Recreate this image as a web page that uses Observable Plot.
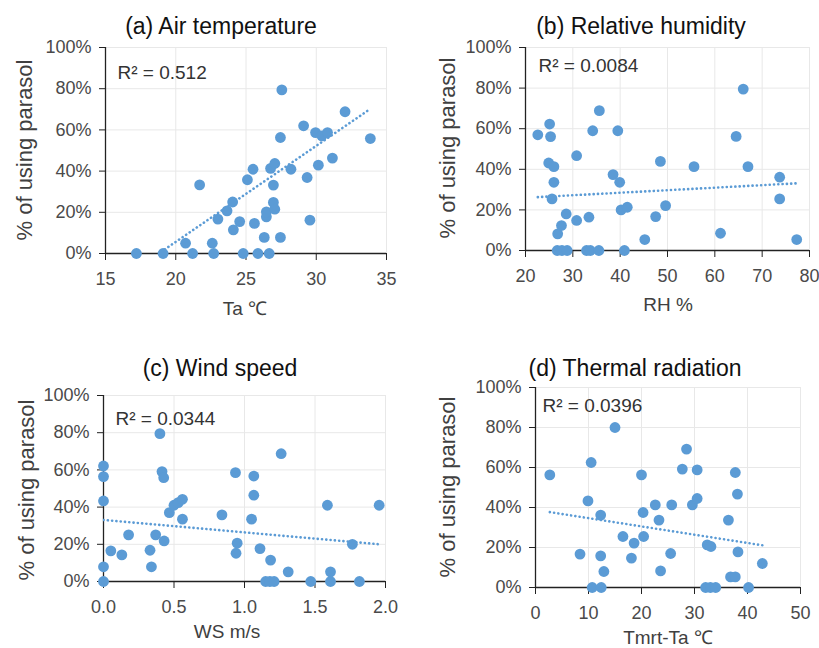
<!DOCTYPE html>
<html>
<head>
<meta charset="utf-8">
<script src="https://cdn.jsdelivr.net/npm/d3@7"></script>
<script src="https://cdn.jsdelivr.net/npm/@observablehq/plot@0.6"></script>
<style>
  body { margin: 0; background: #fff; }
  #chart { position: relative; width: 819px; height: 648px; background: #fff; font-family: "Liberation Sans", Arial, sans-serif; overflow: hidden; }
  .panel { position: absolute; }
  .lbl { position: absolute; white-space: nowrap; transform: translate(-50%, -50%); }
  .title { font-size: 23px; color: #111; }
  .xlab { font-size: 19px; color: #404040; }
  .ylab { font-size: 22px; color: #404040; transform: translate(-50%, -50%) rotate(-90deg); }
</style>
</head>
<body>
<div id="chart"></div>
<script>
// ---- data ----
const titles = ["(a) Air temperature", "(b) Relative humidity", "(c) Wind speed", "(d) Thermal radiation"];
const xLabels = ["Ta ℃", "RH %", "WS m/s", "Tmrt-Ta ℃"];
const yLabel = "% of using parasol";
const r2Labels = ["R² = 0.512", "R² = 0.0084", "R² = 0.0344", "R² = 0.0396"];
const yTicks = [0, 20, 40, 60, 80, 100];

const taTicks = [15, 20, 25, 30, 35];
const taX = [17.2,19.1,20.7,21.2,21.7,22.7,22.6,23.0,23.65,24.05,24.1,24.55,24.8,25.1,25.5,25.6,25.85,26.3,26.45,26.45,26.65,26.95,27.05,26.95,26.75,27.05,27.45,27.55,27.45,28.2,29.1,29.35,29.55,29.95,30.15,30.4,30.8,31.15,32.05,33.85];
const taY = [0,0,5,0,33.3,0,5,16.7,20.7,25,11.5,15.5,0,35.8,40.9,14.6,0,7.8,17.8,20.2,0,24.8,21.5,33.2,41.3,43.7,56.3,79.4,7.8,40.9,62,36.9,16.2,58.7,42.9,57.1,58.7,46.3,68.8,55.8];
const taTrend = [[17.2, -7.4], [33.85, 70.2]];   // linear trendline ends

const rhTicks = [20, 30, 40, 50, 60, 70, 80];
const rhX = [22.6,25.1,25.3,24.9,26.0,26.0,25.6,26.8,27.6,28.6,26.7,27.7,28.8,30.8,30.8,33.4,32.9,33.7,35.5,34.2,35.6,38.5,39.5,39.9,40.2,41.5,40.9,45.2,47.5,48.5,49.6,55.6,61.2,64.5,66.0,67.0,73.7,73.7,77.3];
const rhY = [57,62.3,56.1,43.1,41.3,33.6,25.4,8.2,12.3,18,0,0,0,46.7,14.8,16.4,0,0,0,59,68.9,37.4,59,33.6,20,21.3,0,5.4,16.7,43.9,22.1,41.3,8.5,56.2,79.5,41.3,36.1,25.4,5.4];
const rhTrend = [[22.6, 26.3], [77.3, 33.1]];

const wsTicks = [0, 0.5, 1.0, 1.5, 2.0];
const wsX = [0,0,0,0,0,0.052,0.13,0.178,0.33,0.34,0.37,0.40,0.415,0.427,0.43,0.467,0.50,0.53,0.56,0.56,0.84,0.936,0.948,0.94,1.05,1.066,1.066,1.11,1.15,1.18,1.21,1.185,1.26,1.31,1.47,1.588,1.61,1.61,1.765,1.815,1.955];
const wsY = [0,7.9,43.3,56.4,62.1,16.5,14.3,25.1,16.8,7.9,25.1,79.5,59.1,55.8,21.8,37,41,42.4,44.2,33.5,35.8,58.5,20.6,15.2,33.5,56.7,46.4,17.7,0,0,0,11.5,68.7,5.2,0,41,5.2,0,20,0,41];
const wsTrend = [[0, 33.1], [1.955, 20.0]];

const trTicks = [0, 10, 20, 30, 40, 50];
const trX = [2.7,8.4,9.9,10.5,10.7,12.4,12.3,12.3,12.9,15.0,16.5,18.1,18.6,20.0,20.3,20.4,22.6,23.3,23.6,25.5,25.7,27.7,28.5,29.6,30.5,30.5,32.4,33.1,32.1,33.0,34.0,36.4,37.7,38.1,38.2,36.8,37.7,40.2,42.8];
const trY = [56.3,16.7,43.3,62.5,0,0,36.2,15.8,8,80,25.5,14.7,22.2,56.3,37.5,25.5,41.3,33.7,8.3,17,41.3,59.2,69.2,41.3,44.5,58.8,21.3,20.5,0,0,0,33.7,57.5,46.7,17.8,5.3,5.3,0,12];
const trTrend = [[2.7, 37.7], [42.8, 21.1]];

// ---- layout ----
const blue = "#5B9BD5";
const panels = [
  {xs: taX, ys: taY, trend: taTrend, ticks: taTicks, fmt: d => d, left: 0, top: 0, m: [47, 23, 71, 105], r2: [12, 25],
   title: [221, 26], xl: [245, 308], yl: [25, 150]},
  {xs: rhX, ys: rhY, trend: rhTrend, ticks: rhTicks, fmt: d => d, left: 409, top: 0, m: [47, 9, 74, 116], r2: [13, 18],
   title: [641, 26], xl: [668, 305], yl: [448, 148]},
  {xs: wsX, ys: wsY, trend: wsTrend, ticks: wsTicks, fmt: d3.format(".1f"), left: 0, top: 324, m: [71, 24, 67, 103], r2: [12, 23],
   title: [220, 368], xl: [227, 632], yl: [27, 490]},
  {xs: trX, ys: trY, trend: trTrend, ticks: trTicks, fmt: d => d, left: 409, top: 324, m: [63, 18, 61, 126], r2: [7, 18],
   title: [635, 368], xl: [668, 637], yl: [448, 487]}
];

const chart = document.getElementById("chart");

panels.forEach((p, i) => {
  const data = p.xs.map((x, j) => ({x, y: p.ys[j]}));
  const trend = p.trend.map(([x, y]) => ({x, y}));
  const xDom = [p.ticks[0], p.ticks[p.ticks.length - 1]];
  const svg = Plot.plot({
    width: 409,
    height: 324,
    marginTop: p.m[0], marginRight: p.m[1], marginBottom: p.m[2], marginLeft: p.m[3],
    style: {fontFamily: "Liberation Sans, Arial, sans-serif", background: "transparent", overflow: "visible"},
    x: {domain: xDom},
    y: {domain: [0, 100]},
    marks: [
      Plot.gridX(p.ticks, {stroke: "#e8e8e8", strokeOpacity: 1}),
      Plot.gridY(yTicks, {stroke: "#e8e8e8", strokeOpacity: 1}),
      Plot.ruleY([0], {stroke: "#222", strokeWidth: 1.3}),
      Plot.ruleX([xDom[0]], {stroke: "#222", strokeWidth: 1.3}),
      Plot.axisX(p.ticks, {tickSize: 7, tickPadding: 12, fontSize: 18, stroke: "#222", fill: "#4a4a4a", tickFormat: p.fmt, label: null}),
      Plot.axisY(yTicks, {tickSize: 6, tickPadding: 8, fontSize: 18, stroke: "#222", fill: "#4a4a4a", tickFormat: d => d + "%", label: null}),
      Plot.line(trend, {x: "x", y: "y", stroke: blue, strokeWidth: 2.6, strokeDasharray: "0.1 4.2", strokeLinecap: "round", clip: true}),
      Plot.dot(data, {x: "x", y: "y", r: 5.4, fill: blue, stroke: "none"}),
      Plot.text([r2Labels[i]], {frameAnchor: "top-left", dx: p.r2[0], dy: p.r2[1], lineAnchor: "middle", textAnchor: "start", fontSize: 19, fill: "#333", text: d => d})
    ]
  });
  svg.classList.add("panel");
  svg.style.left = p.left + "px";
  svg.style.top = p.top + "px";
  chart.appendChild(svg);

  const t = document.createElement("div");
  t.className = "lbl title"; t.textContent = titles[i];
  t.style.left = p.title[0] + "px"; t.style.top = p.title[1] + "px";
  chart.appendChild(t);

  const xl = document.createElement("div");
  xl.className = "lbl xlab"; xl.textContent = xLabels[i];
  xl.style.left = p.xl[0] + "px"; xl.style.top = p.xl[1] + "px";
  chart.appendChild(xl);

  const yl = document.createElement("div");
  yl.className = "lbl ylab"; yl.textContent = yLabel;
  yl.style.left = p.yl[0] + "px"; yl.style.top = p.yl[1] + "px";
  chart.appendChild(yl);
});
</script>
</body>
</html>
